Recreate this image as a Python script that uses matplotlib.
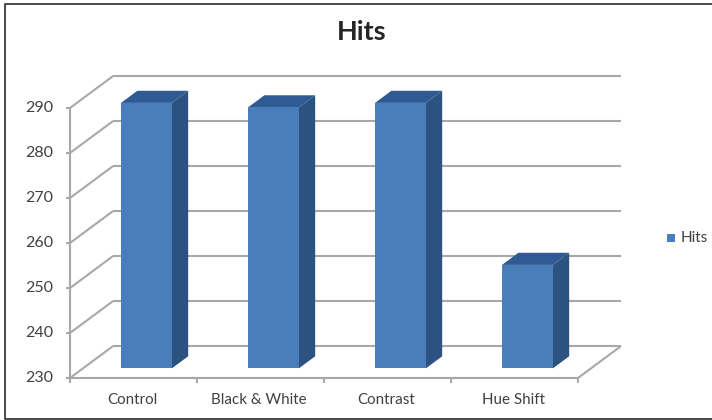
import matplotlib
matplotlib.use('Agg')
import matplotlib.pyplot as plt
from matplotlib.lines import Line2D
from matplotlib.patches import Polygon, Rectangle

categories = ['Control', 'Black & White', 'Contrast', 'Hue Shift']
hits = [289, 288, 289, 253]
y_ticks = [230, 240, 250, 260, 270, 280, 290]

plt.rcParams['font.family'] = ['Lato', 'DejaVu Sans']

W, H = 712, 420
FRONT = '#4a7ebb'
TOP = '#2f5a92'
SIDE = '#2c5282'
GRID = '#a8a8a8'
TEXT = '#404040'

# floor depth in data units, and how far the bars sit back on the floor
DX, DY = 0.339, 7.1
BAR_NEAR, BAR_FAR = 0.30, 0.68
BAR_W = 0.40

fig = plt.figure(figsize=(W / 100, H / 100), dpi=100)
ax = fig.add_axes([70 / W, 1 - 378 / H, 508 / W, 270 / H])
ax.set_xlim(0, 4)
ax.set_ylim(230, 290)
ax.axis('off')


def proj(x, y, d):
    return (x + DX * d, y + DY * d)


def line3d(p, q, lw=1.5, color=GRID, z=1):
    ax.plot([p[0], q[0]], [p[1], q[1]], color=color, lw=lw, clip_on=False,
            solid_capstyle='butt', zorder=z)


# walls and gridlines
for v in y_ticks:
    line3d(proj(0, v, 0), proj(0, v, 1))
    line3d(proj(0, v, 1), proj(4, v, 1))
    line3d((-0.03, v), (0, v))
    ax.text(-0.132, v, str(v), ha='right', va='center', fontsize=11.5, color=TEXT)

line3d(proj(0, 230, 0), proj(0, 290, 0))
line3d(proj(0, 230, 0), proj(4, 230, 0))
line3d(proj(4, 230, 0), proj(4, 230, 1))

# category ticks and labels
for i, name in enumerate(categories):
    line3d((i, 230), (i, 230 - 1.0))
    ax.text(i + 0.49, 225.1, name, ha='center', va='center', fontsize=10.9, color=TEXT)
line3d((4, 230), (4, 229))

# bars
for i, val in enumerate(hits):
    x0 = i + 0.5 - BAR_W / 2
    x1 = x0 + BAR_W
    a = proj(x0, 230, BAR_NEAR)
    b = proj(x1, 230, BAR_NEAR)
    c = proj(x1, val, BAR_NEAR)
    d = proj(x0, val, BAR_NEAR)
    b2 = proj(x1, 230, BAR_FAR)
    c2 = proj(x1, val, BAR_FAR)
    d2 = proj(x0, val, BAR_FAR)
    ax.add_patch(Polygon([b, b2, c2, c], fc=SIDE, ec='none', clip_on=False, zorder=3))
    ax.add_patch(Polygon([d, c, c2, d2], fc=TOP, ec='none', clip_on=False, zorder=3))
    ax.add_patch(Polygon([a, b, c, d], fc=FRONT, ec='none', clip_on=False, zorder=4))

fig.text(362 / W, 1 - 32 / H, 'Hits', ha='center', va='center', fontsize=19.5,
         fontweight='bold', color='#262626')

# legend
fig.add_artist(Rectangle((667 / W, 1 - 242 / H), 8 / W, 8 / H, fc=FRONT, ec='none',
                         transform=fig.transFigure))
fig.text(681 / W, 1 - 237.5 / H, 'Hits', ha='left', va='center', fontsize=11, color=TEXT)

# frame runs along top, left and bottom, open on the right
fx = [1, 5 / W, 5 / W, 1]
fy = [1 - 4 / H, 1 - 4 / H, 1 - 419 / H, 1 - 419 / H]
fig.add_artist(Line2D(fx, fy, color='#3a3a3a', lw=1.3, transform=fig.transFigure))

fig.savefig('out.png', dpi=100)
